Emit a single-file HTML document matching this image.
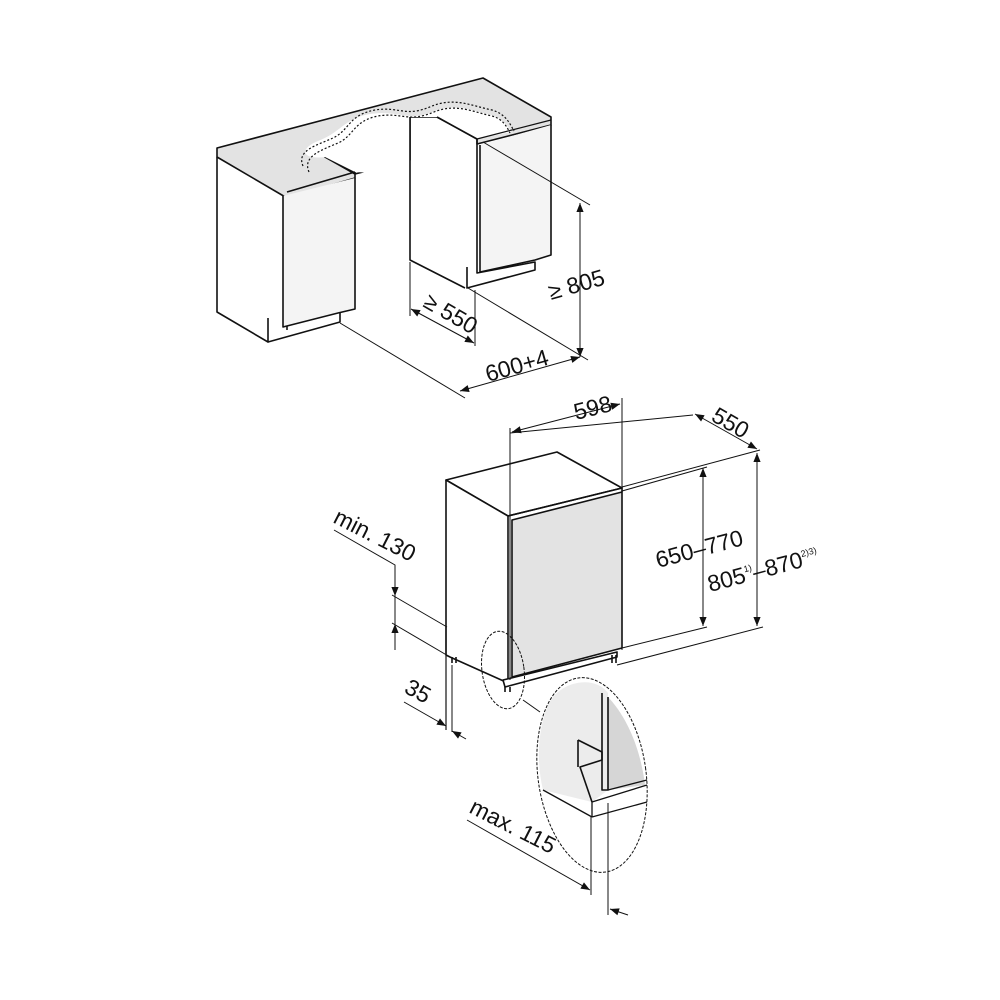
<!DOCTYPE html>
<html><head><meta charset="utf-8"><style>
html,body{margin:0;padding:0;background:#fff}
svg{display:block}
text{font-family:"Liberation Sans",sans-serif;font-size:23px;fill:#111}
</style></head><body>
<svg width="1000" height="1000" viewBox="0 0 1000 1000" xmlns="http://www.w3.org/2000/svg">
<defs>
<marker id="a" viewBox="0 0 10 10" refX="10" refY="5" markerWidth="14" markerHeight="9" orient="auto-start-reverse" markerUnits="userSpaceOnUse"><path d="M0,1 L10,5 L0,9 Z" fill="#111"/></marker>
</defs>
<g stroke="#111" fill="none" stroke-width="1.6" stroke-linejoin="round">
<!-- countertop -->
<path d="M217,148 L483,78 L551,117 L551,125 L477,144 L477,139 L437,117 L410,117 L410,160 L355,174 L325,157 L355,172 L355,178 L287,198 L217,157 Z" fill="#e3e3e3"/>
<!-- white cut region -->
<path d="M325,157 C300,160 300,148 318,141 C340,133 345,118 370,114 C400,110 408,122 432,112 C455,103 470,110 488,114 C503,118 508,126 511,132 L477,139 L437,117 L410,117 L410,175 L355,172 Z" fill="#fff" stroke="none"/>
<path d="M303,166 C296,150 318,145 333,138 C350,130 348,115 375,110 C400,106 405,118 432,106 C455,97 472,106 492,110 C506,114 510,124 514,131" stroke-dasharray="2,2" stroke-width="1.2"/>
<path d="M309,172 C302,156 322,150 338,143 C354,136 353,121 378,116 C402,112 408,123 434,112 C456,103 473,112 492,116 C503,119 507,127 510,133" stroke-dasharray="2,2" stroke-width="1.2"/>
<!-- left cabinet -->
<path d="M217,157 L217,312 L268,342 L268,318"/>
<path d="M287,198 L287,330"/>
<path d="M268,342 L340,322 L340,313"/>
<path d="M283,196 L283,327 L338,313 L355,309 L355,178" fill="#f4f4f4"/>
<path d="M287,192 L355,172"/>
<!-- middle panel -->
<path d="M410,117 L410,260 L465,288"/>
<path d="M437,117 L477,139"/>
<!-- right cabinet -->
<path d="M477,139 L477,273 L535,262 L535,270 L467,288 L467,267" />
<path d="M480,145 L480,272 L535,260 L551,255 L551,125" fill="#f4f4f4"/>
<path d="M477,139 L551,120" stroke-width="1.2"/>
</g>
<g stroke="#111" fill="none" stroke-width="1">
<path d="M483,142 L590,205"/>
<path d="M468,288 L588,360"/>
<path d="M340,323 L465,398"/>
<path d="M580,203 L580,357" marker-start="url(#a)" marker-end="url(#a)"/>
<path d="M460,391 L580,357" marker-start="url(#a)" marker-end="url(#a)"/>
<path d="M410,262 L410,316"/>
<path d="M475,290 L475,346"/>
<path d="M411,309 L474,343" marker-start="url(#a)" marker-end="url(#a)"/>
</g>
<text transform="translate(551,300) rotate(-16)">≥ 805</text>
<text transform="translate(488,382) rotate(-16)">600+4</text>
<text transform="translate(422,306) rotate(30)">≥ 550</text>

<!-- dishwasher -->
<g stroke="#111" fill="none" stroke-width="1.6" stroke-linejoin="round">
<path d="M446,480 L557,452 L622,488 L508,516 Z" fill="#fff"/>
<path d="M446,480 L508,516 L508,683 L450,657 L446,655 Z" fill="#fff"/>
<path d="M446,627 L446,730" stroke-width="1.2"/>
<path d="M512,520 L622,492 L622,648 L512,677 Z" fill="#e3e3e3"/>
<path d="M508,516 L622,488 L622,492" />
<path d="M503,680 L617,652 L617,657 L505,687 Z" fill="#fff"/>
<path d="M452,657 L452,663 M456,657 L456,663 M505,687 L505,692 M510,687 L510,692 M612,655 L612,663 M616,655 L616,663"/>
</g>
<g stroke="#111" fill="none" stroke-width="1">
<path d="M510,428 L510,680"/>
<path d="M622,398 L622,650"/>
<path d="M512,432 L620,404" marker-start="url(#a)" marker-end="url(#a)"/>
<path d="M510,433 L693,415"/>
<path d="M622,487 L760,450"/>
<path d="M695,414 L757,449" marker-start="url(#a)" marker-end="url(#a)"/>
<path d="M622,491 L707,467"/>
<path d="M622,648 L707,627"/>
<path d="M617,665 L763,627"/>
<path d="M703,468 L703,626" marker-start="url(#a)" marker-end="url(#a)"/>
<path d="M757,453 L757,626" marker-start="url(#a)" marker-end="url(#a)"/>
<!-- min 130 -->
<path d="M334,530 L395,565 L395,650"/>
<path d="M395,570 L395,596" marker-end="url(#a)"/>
<path d="M395,650 L395,624" marker-end="url(#a)"/>
<path d="M392,595 L447,627"/>
<path d="M392,623 L450,657"/>
<!-- 35 -->
<path d="M404,702 L446,726" marker-end="url(#a)"/>
<path d="M466,739 L452,731" marker-end="url(#a)"/>
<path d="M452,665 L452,732"/>
<!-- detail -->
<ellipse cx="503" cy="670" rx="21" ry="39" stroke-dasharray="3,1.5" transform="rotate(-8 503 670)"/>
<path d="M523,700 L540,712"/>
</g>
<text transform="translate(576,420) rotate(-14)">598</text>
<text transform="translate(710,420) rotate(30)">550</text>
<text transform="translate(658,568) rotate(-15)">650–770</text>
<text transform="translate(710,592) rotate(-15)">805<tspan font-size="9" dy="-10">1)</tspan><tspan dy="10">–870</tspan><tspan font-size="9" dy="-10">2)3)</tspan></text>
<text transform="translate(332,522) rotate(27)">min. 130</text>
<text transform="translate(403,692) rotate(28)">35</text>
<text transform="translate(468,812) rotate(27)">max. 115</text>

<!-- big ellipse detail -->
<g stroke="#111" fill="none" stroke-linejoin="round">
<ellipse cx="592" cy="775" rx="54" ry="98" fill="#fff" stroke-dasharray="3,1.5" stroke-width="1" transform="rotate(-8 592 775)"/>
<path d="M548,705 C560,680 595,675 608,693 L608,790 L592,802 L543,790 C536,760 538,730 548,705 Z" fill="#ececec" stroke="none"/>
<path d="M608,697 C625,715 640,745 645,785 L608,790 Z" fill="#d6d6d6" stroke="none"/>
<path d="M602,693 L602,790 L608,790 L608,697" stroke-width="1.6"/>
<path d="M578,740 L602,752 L602,760 L580,767 L592,802" stroke-width="1.6" fill="none"/>
<path d="M578,740 L578,767" stroke-width="1.6"/>
<path d="M608,790 L647,780" stroke-width="1.3"/>
<path d="M592,802 L647,785 M592,817 L647,802 M592,802 L592,817" stroke-width="1.3"/>
<path d="M543,790 L592,817" stroke-width="1.3"/>
<path d="M591,817 L591,895 M608,803 L608,915" stroke-width="1"/>
<path d="M467,820 L590,890" stroke-width="1" marker-end="url(#a)"/>
<path d="M628,915 L610,909" stroke-width="1" marker-end="url(#a)"/>
</g>
</svg>
</body></html>
